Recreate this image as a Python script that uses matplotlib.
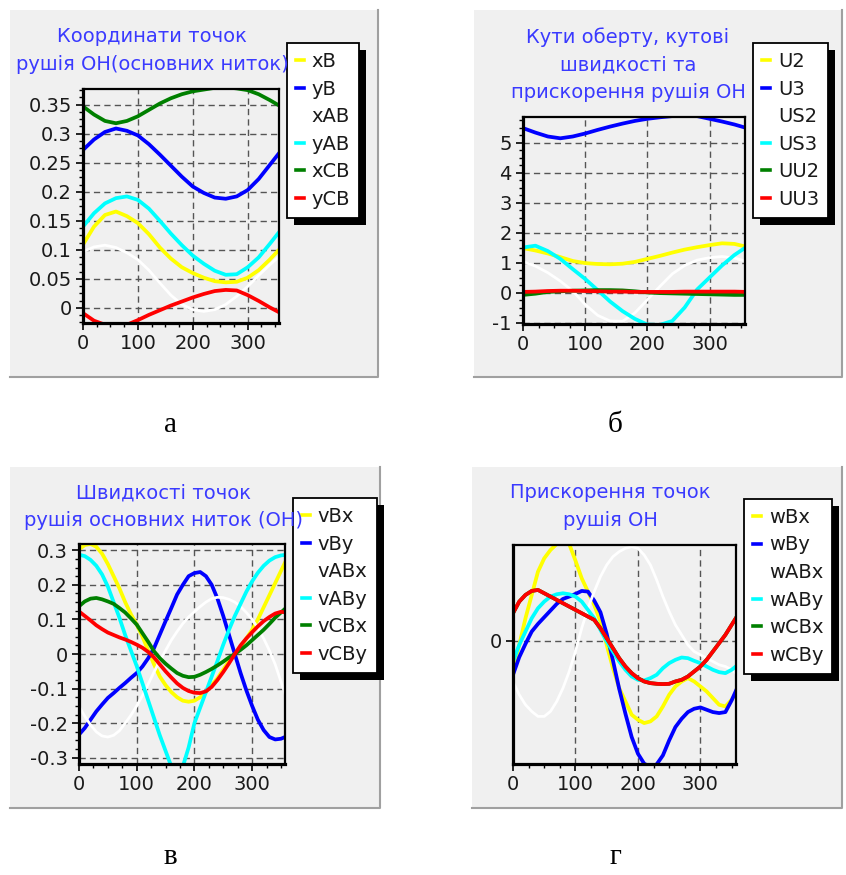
import matplotlib.pyplot as plt
import numpy as np
from matplotlib.patches import Rectangle
from matplotlib.lines import Line2D
from matplotlib.ticker import MultipleLocator, AutoMinorLocator

W, H = 846, 875

# crank angle, degrees
angle20 = list(range(0, 361, 20))
angle10 = list(range(0, 361, 10))

# а - координати точок
xB = [0.109, 0.14, 0.16, 0.166, 0.158, 0.146, 0.127, 0.104, 0.085, 0.07,
      0.06, 0.052, 0.046, 0.044, 0.045, 0.052, 0.065, 0.083, 0.103]
yB = [0.272, 0.29, 0.303, 0.309, 0.305, 0.297, 0.282, 0.264, 0.245, 0.226,
      0.209, 0.198, 0.19, 0.188, 0.192, 0.203, 0.222, 0.246, 0.27]
xAB = [0.097, 0.105, 0.108, 0.104, 0.095, 0.083, 0.065, 0.043, 0.022, 0.006,
       -0.003, -0.006, -0.003, 0.006, 0.02, 0.037, 0.056, 0.074, 0.091]
yAB = [0.14, 0.163, 0.18, 0.189, 0.192, 0.186, 0.171, 0.15, 0.128, 0.108,
       0.09, 0.076, 0.064, 0.057, 0.058, 0.07, 0.087, 0.11, 0.134]
xCB = [0.347, 0.333, 0.322, 0.318, 0.322, 0.33, 0.341, 0.352, 0.361, 0.368,
       0.373, 0.376, 0.379, 0.38, 0.378, 0.375, 0.368, 0.358, 0.347]
yCB = [-0.009, -0.022, -0.029, -0.031, -0.029, -0.021, -0.012, -0.004, 0.004, 0.011,
       0.018, 0.024, 0.029, 0.031, 0.03, 0.022, 0.012, 0.001, -0.009]

# б - кути оберту, кутові швидкості, прискорення
U2 = [1.48, 1.4, 1.3, 1.18, 1.05, 0.98, 0.95, 0.94, 0.96, 1.02,
      1.12, 1.22, 1.33, 1.43, 1.51, 1.58, 1.64, 1.62, 1.52]
U3 = [5.48, 5.33, 5.2, 5.14, 5.2, 5.3, 5.42, 5.53, 5.63, 5.72,
      5.79, 5.84, 5.88, 5.9, 5.88, 5.79, 5.7, 5.6, 5.48]
US2 = [1.03, 0.88, 0.66, 0.38, 0.05, -0.4, -0.76, -0.95, -0.96, -0.68,
       -0.24, 0.2, 0.62, 0.9, 1.08, 1.16, 1.2, 1.15, 1.03]
US3 = [1.5, 1.56, 1.38, 1.12, 0.78, 0.45, 0.08, -0.3, -0.62, -0.88,
       -1.07, -1.08, -0.95, -0.5, 0.1, 0.5, 0.9, 1.25, 1.53]
UU2 = [-0.08, -0.04, 0.02, 0.04, 0.06, 0.07, 0.08, 0.08, 0.07, 0.04,
       0.0, -0.02, -0.03, -0.04, -0.05, -0.06, -0.07, -0.08, -0.08]
UU3 = [0.02, 0.03, 0.05, 0.06, 0.06, 0.05, 0.04, 0.03, 0.03, 0.02,
       0.02, 0.02, 0.02, 0.03, 0.03, 0.03, 0.03, 0.03, 0.02]

# в - швидкості точок (крок 10 град)
vBx = [0.302, 0.315, 0.318, 0.31, 0.29, 0.26, 0.225, 0.19, 0.15, 0.115,
       0.085, 0.05, 0.01, -0.03, -0.065, -0.09, -0.11, -0.125, -0.135, -0.138,
       -0.135, -0.125, -0.11, -0.09, -0.07, -0.045, -0.02, 0.0, 0.02, 0.045,
       0.07, 0.1, 0.135, 0.17, 0.205, 0.24, 0.275]
vBy = [-0.233, -0.214, -0.19, -0.166, -0.146, -0.127, -0.113, -0.098, -0.084, -0.069,
       -0.055, -0.036, -0.012, 0.017, 0.056, 0.095, 0.133, 0.172, 0.2, 0.225,
       0.234, 0.237, 0.225, 0.2, 0.16, 0.11, 0.055, 0.0, -0.055, -0.105,
       -0.15, -0.19, -0.22, -0.24, -0.247, -0.245, -0.238]
vABx = [-0.151, -0.18, -0.205, -0.225, -0.237, -0.24, -0.235, -0.222, -0.2, -0.177,
        -0.15, -0.12, -0.087, -0.052, -0.02, 0.01, 0.04, 0.065, 0.088, 0.107,
        0.122, 0.137, 0.15, 0.16, 0.164, 0.163, 0.158, 0.15, 0.137, 0.12,
        0.1, 0.075, 0.045, 0.01, -0.03, -0.08, -0.13]
vABy = [0.287, 0.283, 0.272, 0.255, 0.23, 0.195, 0.15, 0.105, 0.055, 0.01,
        -0.035, -0.085, -0.135, -0.185, -0.235, -0.28, -0.325, -0.34, -0.325, -0.27,
        -0.2, -0.155, -0.11, -0.065, -0.02, 0.027, 0.07, 0.11, 0.145, 0.18,
        0.21, 0.235, 0.255, 0.27, 0.28, 0.285, 0.287]
vCBx = [0.138, 0.152, 0.16, 0.162, 0.158, 0.152, 0.145, 0.133, 0.12, 0.103,
        0.085, 0.06, 0.035, 0.008, -0.012, -0.028, -0.042, -0.055, -0.063, -0.067,
        -0.066, -0.06, -0.052, -0.043, -0.033, -0.022, -0.01, 0.0, 0.012, 0.025,
        0.04, 0.055, 0.07, 0.087, 0.105, 0.12, 0.135]
vCBy = [0.123, 0.11, 0.097, 0.083, 0.072, 0.062, 0.055, 0.048, 0.042, 0.035,
        0.027, 0.018, 0.006, -0.01, -0.03, -0.05, -0.068, -0.085, -0.098, -0.107,
        -0.112, -0.113, -0.108, -0.095, -0.075, -0.052, -0.027, 0.0, 0.025, 0.045,
        0.063, 0.08, 0.095, 0.107, 0.117, 0.122, 0.12]

# г - прискорення точок (крок 10 град, шкала без підписів, крім 0)
wBx = [-0.93, -0.13, 0.67, 1.37, 2.07, 2.47, 2.72, 2.9, 2.95, 2.9,
       2.4, 1.87, 1.47, 1.07, 0.57, -0.13, -0.83, -1.43, -1.83, -2.23,
       -2.38, -2.48, -2.43, -2.28, -1.98, -1.63, -1.38, -1.23, -1.13, -1.23,
       -1.38, -1.53, -1.73, -1.93, -1.98, -1.78, -1.53]
wBy = [-1.03, -0.5, -0.1, 0.27, 0.5, 0.7, 0.9, 1.1, 1.25, 1.32,
       1.4, 1.49, 1.47, 1.2, 0.85, 0.2, -0.6, -1.45, -2.2, -2.9,
       -3.4, -3.7, -3.8, -3.72, -3.45, -3.0, -2.6, -2.35, -2.15, -2.05,
       -2.01, -2.08, -2.15, -2.18, -2.15, -1.8, -1.38]
wABx = [-1.23, -1.63, -1.93, -2.13, -2.28, -2.28, -2.13, -1.83, -1.43, -0.93,
        -0.33, 0.37, 0.97, 1.47, 1.92, 2.27, 2.52, 2.67, 2.77, 2.82,
        2.77, 2.57, 2.27, 1.82, 1.32, 0.87, 0.47, 0.17, -0.13, -0.33,
        -0.43, -0.53, -0.63, -0.73, -0.78, -0.88, -1.03]
wABy = [-0.63, -0.13, 0.27, 0.67, 0.97, 1.17, 1.32, 1.39, 1.42, 1.39,
        1.32, 1.17, 0.92, 0.67, 0.32, -0.03, -0.33, -0.63, -0.88, -1.08,
        -1.18, -1.2, -1.13, -1.03, -0.83, -0.68, -0.58, -0.51, -0.53, -0.61,
        -0.68, -0.78, -0.88, -0.95, -0.98, -0.88, -0.73]
wCBx = [0.82, 1.17, 1.37, 1.49, 1.52, 1.42, 1.32, 1.22, 1.12, 1.02,
        0.92, 0.82, 0.72, 0.62, 0.37, 0.07, -0.23, -0.53, -0.78, -0.98,
        -1.13, -1.23, -1.28, -1.3, -1.31, -1.3, -1.23, -1.18, -1.08, -0.93,
        -0.78, -0.58, -0.33, -0.08, 0.17, 0.47, 0.77]
wCBy = [0.82, 1.17, 1.37, 1.49, 1.52, 1.42, 1.32, 1.22, 1.12, 1.02,
        0.92, 0.82, 0.72, 0.62, 0.37, 0.07, -0.23, -0.53, -0.78, -0.98,
        -1.13, -1.23, -1.28, -1.3, -1.31, -1.3, -1.23, -1.18, -1.08, -0.93,
        -0.78, -0.58, -0.33, -0.08, 0.17, 0.47, 0.77]

colors = ['#ffff00', '#0000ff', '#ffffff', '#00ffff', '#008000', '#ff0000']
PANEL = '#f0f0f0'
TITLE_C = '#3a3aff'
TXT = '#1a1a1a'
FS = 14

fig = plt.figure(figsize=(W / 100, H / 100), dpi=100)
fig.patch.set_facecolor('white')


def px_box(x0, y0, x1, y1):
    return [x0 / W, 1 - y1 / H, (x1 - x0) / W, (y1 - y0) / H]


def make_panel(bg, axbox, titles, xs, series, names, ylim, yticks, ylabels,
               leg_xy, letter, letter_xy, yminor=True):
    x0, y0, x1, y1 = bg
    fig.add_artist(Rectangle((x0 / W, 1 - y1 / H), (x1 - x0) / W, (y1 - y0) / H,
                             transform=fig.transFigure, facecolor=PANEL,
                             edgecolor='none', zorder=-5))
    fig.add_artist(Line2D([x0 / W, x1 / W, x1 / W], [1 - y1 / H, 1 - y1 / H, 1 - y0 / H],
                          transform=fig.transFigure, color='#a0a0a0', lw=1.5, zorder=-4))

    ax = fig.add_axes(px_box(*axbox))
    ax.set_facecolor(PANEL)
    for s, c, n in zip(series, colors, names):
        lw = 2.0 if c == '#ffffff' else 2.7
        ax.plot(xs, s, color=c, lw=lw, label=n, solid_capstyle='butt',
                solid_joinstyle='round')
    ax.set_xlim(0, 357)
    ax.set_ylim(*ylim)
    ax.set_xticks([0, 100, 200, 300])
    ax.xaxis.set_minor_locator(MultipleLocator(25))
    ax.set_yticks(yticks)
    ax.set_yticklabels(ylabels)
    if yminor:
        ax.yaxis.set_minor_locator(AutoMinorLocator(4))
    ax.grid(True, which='major', color='#555555', lw=1.0, linestyle=(0, (4.5, 3)))
    ax.tick_params(which='major', length=5, width=1.2, color='black',
                   labelsize=FS, labelcolor=TXT, pad=3)
    ax.tick_params(which='minor', length=3, width=1.0, color='black')
    for side in ['left', 'bottom']:
        ax.spines[side].set_linewidth(2.3)
    for side in ['top', 'right']:
        ax.spines[side].set_linewidth(1.6)

    for txt, (tx, ty) in titles:
        fig.text(tx / W, 1 - ty / H, txt, color=TITLE_C, fontsize=FS,
                 ha='center', va='center')

    handles = [Line2D([], [], color=c, lw=2.6) for c in colors]
    leg = ax.legend(handles, names, loc='upper left',
                    bbox_to_anchor=(leg_xy[0] / W, 1 - leg_xy[1] / H),
                    bbox_transform=fig.transFigure, frameon=True, fancybox=False,
                    edgecolor='black', facecolor='white', framealpha=1,
                    fontsize=FS, handlelength=0.42, handletextpad=0.4,
                    labelspacing=0.44, borderpad=0.46, borderaxespad=0)
    leg.get_frame().set_linewidth(1.3)
    for t in leg.get_texts():
        t.set_color(TXT)

    fig.text(letter_xy[0] / W, 1 - letter_xy[1] / H, letter, fontsize=21,
             family='Liberation Serif', ha='center', va='center', color='black')
    return ax, leg


panels = []
panels.append(make_panel(
    (10, 10, 378, 377), (83, 89, 279, 323),
    [('Координати точок', (152, 37)), ('рушія ОН(основних ниток)', (152, 65))],
    angle20, [xB, yB, xAB, yAB, xCB, yCB], ['xB', 'yB', 'xAB', 'yAB', 'xCB', 'yCB'],
    (-0.026, 0.377), [0, 0.05, 0.1, 0.15, 0.2, 0.25, 0.3, 0.35],
    ['0', '0.05', '0.1', '0.15', '0.2', '0.25', '0.3', '0.35'],
    (287, 43), 'а', (170, 425)))
panels.append(make_panel(
    (474, 10, 842, 377), (523, 117, 745, 324),
    [('Кути оберту, кутові', (628, 37)), ('швидкості та', (628, 65)),
     ('прискорення рушія ОН', (628, 93))],
    angle20, [U2, U3, US2, US3, UU2, UU3], ['U2', 'U3', 'US2', 'US3', 'UU2', 'UU3'],
    (-1.05, 5.85), [-1, 0, 1, 2, 3, 4, 5],
    ['-1', '0', '1', '2', '3', '4', '5'],
    (753, 43), 'б', (615, 425)))
panels.append(make_panel(
    (10, 467, 380, 808), (79, 544, 285, 764),
    [('Швидкості точок', (163, 493)), ('рушія основних ниток (ОН)', (163, 520))],
    angle10, [vBx, vBy, vABx, vABy, vCBx, vCBy], ['vBx', 'vBy', 'vABx', 'vABy', 'vCBx', 'vCBy'],
    (-0.318, 0.318), [-0.3, -0.2, -0.1, 0, 0.1, 0.2, 0.3],
    ['-0.3', '-0.2', '-0.1', '0', '0.1', '0.2', '0.3'],
    (293, 498), 'в', (170, 857)))
panels.append(make_panel(
    (472, 467, 842, 808), (513, 545, 736, 764),
    [('Прискорення точок', (610, 493)), ('рушія ОН', (610, 520))],
    angle10, [wBx, wBy, wABx, wABy, wCBx, wCBy], ['wBx', 'wBy', 'wABx', 'wABy', 'wCBx', 'wCBy'],
    (-3.71, 2.87), [0], ['0'],
    (744, 499), 'г', (615, 857), yminor=False))

# black drop shadow behind each legend
fig.canvas.draw()
for ax, leg in panels:
    bb = leg.get_window_extent()
    ax.add_patch(Rectangle((bb.x0 + 7, bb.y0 - 7), bb.width, bb.height,
                           transform=None, facecolor='black', edgecolor='none',
                           clip_on=False, zorder=4.9))

fig.savefig('out.png', dpi=100)
